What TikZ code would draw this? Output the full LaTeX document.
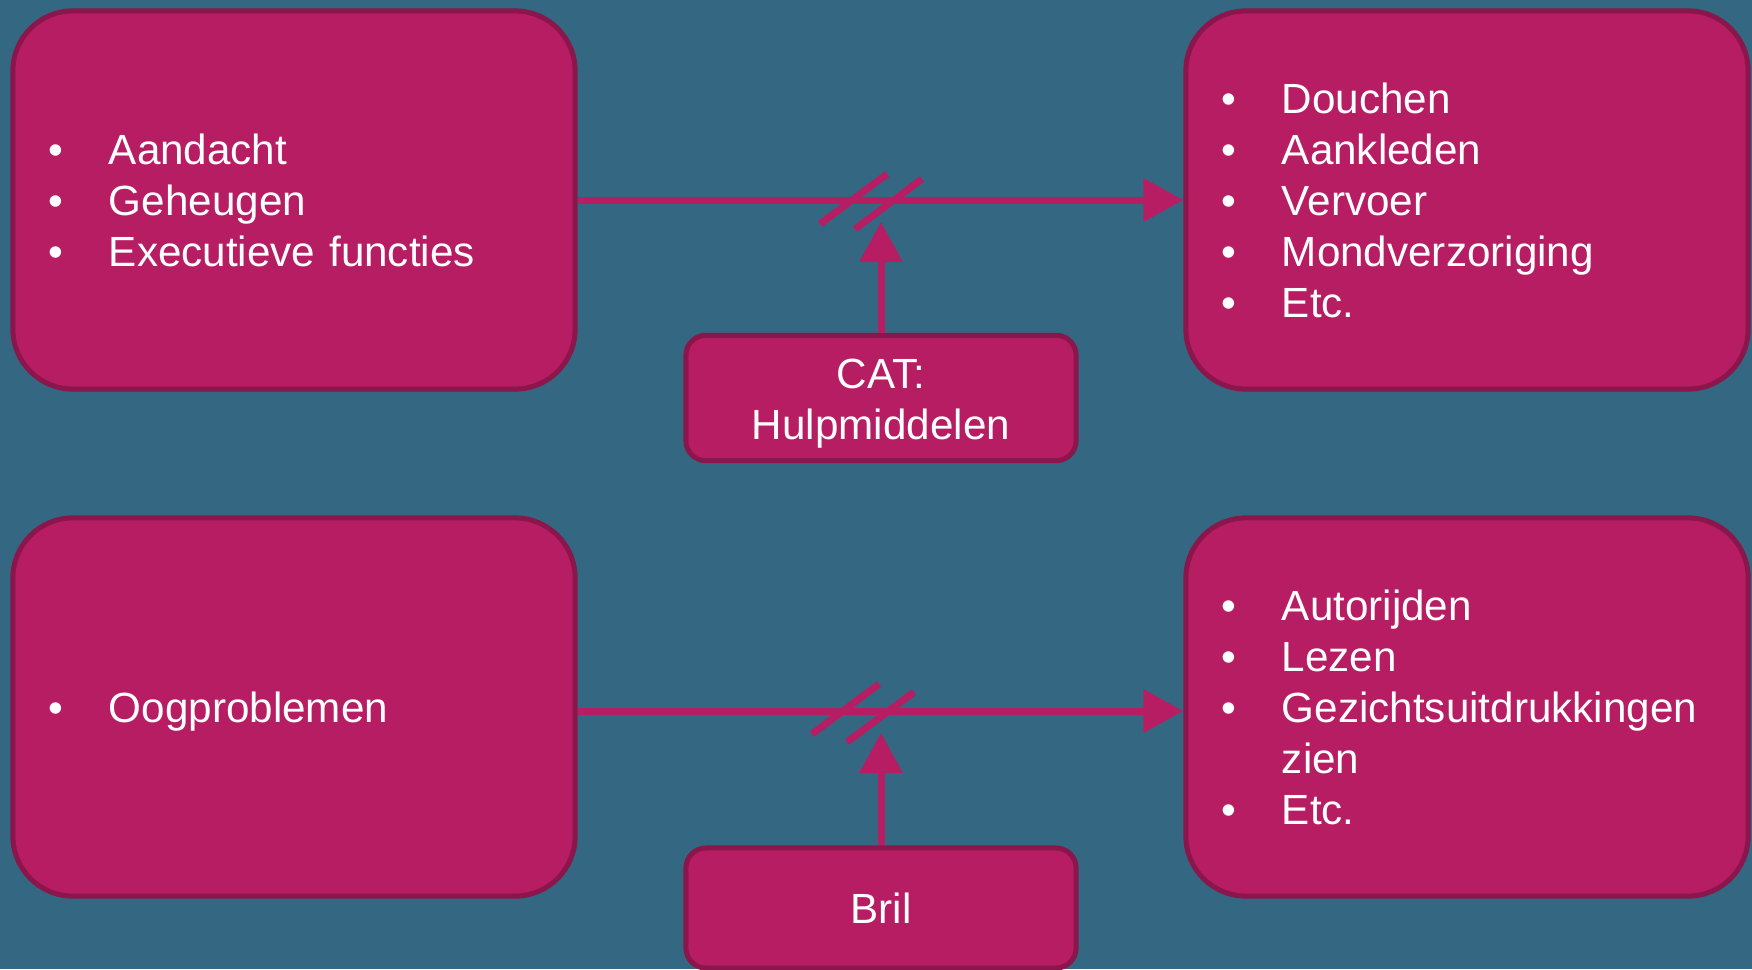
\documentclass[tikz,border=0pt]{standalone}
\usepackage{fontspec}
\setmainfont{Liberation Sans}
\usepackage{tikz}
\usetikzlibrary{arrows.meta}

\definecolor{achtergrond}{HTML}{346882}
\definecolor{roze}{HTML}{B71D63}
\definecolor{donkerroze}{HTML}{8A164C}

\newcommand{\punt}{\textbullet}
\newcommand{\zak}[1]{\raisebox{-0.055cm}[\height][\depth]{#1}}

\begin{document}
\begin{tikzpicture}[x=0.01cm,y=-0.01cm,
					every node/.style = {text=white, font=\fontsize{12}{14.5}\selectfont}]

\tikzstyle{blok}=[rectangle, rounded corners=0.6cm, fill=roze, draw=donkerroze, line width=0.05cm,
	minimum height=3.78cm, text width=4.9cm, inner xsep=0.36cm, align=left]
\tikzstyle{hulp}=[rectangle, rounded corners=0.2cm, fill=roze, draw=donkerroze, line width=0.05cm,
	minimum width=3.9cm, minimum height=1.2cm, align=center]
\tikzstyle{pijl}=[draw=roze, line width=0.07cm, -{Triangle[length=0.4cm,width=0.42cm]}]
\tikzstyle{streep}=[draw=roze, line width=0.07cm]

\useasboundingbox (0,0) rectangle (1752,969);
\fill[achtergrond] (0,0) rectangle (1752,969);

% bovenste rij
\node[blok] (cognitie) at (294,200) {\zak{\begin{tabular}{@{}p{0.6cm}@{}l@{}}
	\punt & Aandacht\\ \punt & Geheugen\\ \punt & Executieve functies\end{tabular}}};
\node[blok] (adl) at (1467,200) {\zak{\begin{tabular}{@{}p{0.6cm}@{}l@{}}
	\punt & Douchen\\ \punt & Aankleden\\ \punt & Vervoer\\ \punt & Mondverzoriging\\ \punt & Etc.\end{tabular}}};
\node[hulp] (cat) at (881,398) {\zak{\begin{tabular}{@{}c@{}}CAT:\\Hulpmiddelen\end{tabular}}};

\draw[pijl] (cognitie.east) -- (adl.west);
\coordinate (catpunt) at (881,222);
\draw[pijl] (cat.north) -- (catpunt);
\coordinate (breuk1) at (853,199);
\coordinate (breuk2) at (888,204);
\draw[streep] (breuk1) ++(-33,25) -- ++(67,-50);
\draw[streep] (breuk2) ++(-33,25) -- ++(67,-50);

% onderste rij
\node[blok] (oog) at (294,707) {\zak{\begin{tabular}{@{}p{0.6cm}@{}l@{}}
	\punt & Oogproblemen\end{tabular}}};
\node[blok] (zicht) at (1467,707) {\zak{\begin{tabular}{@{}p{0.6cm}@{}l@{}}
	\punt & Autorijden\\ \punt & Lezen\\ \punt & Gezichtsuitdrukkingen\\ & zien\\ \punt & Etc.\end{tabular}}};
\node[hulp] (bril) at (881,908) {Bril};

\draw[pijl] ([yshift=-0.04cm]oog.east) -- ([yshift=-0.04cm]zicht.west);
\coordinate (brilpunt) at (881,733);
\draw[pijl] (bril.north) -- (brilpunt);
\coordinate (breuk3) at (845,709);
\coordinate (breuk4) at (880,717);
\draw[streep] (breuk3) ++(-33,25) -- ++(67,-50);
\draw[streep] (breuk4) ++(-33,25) -- ++(67,-50);
\end{tikzpicture}
\end{document}
